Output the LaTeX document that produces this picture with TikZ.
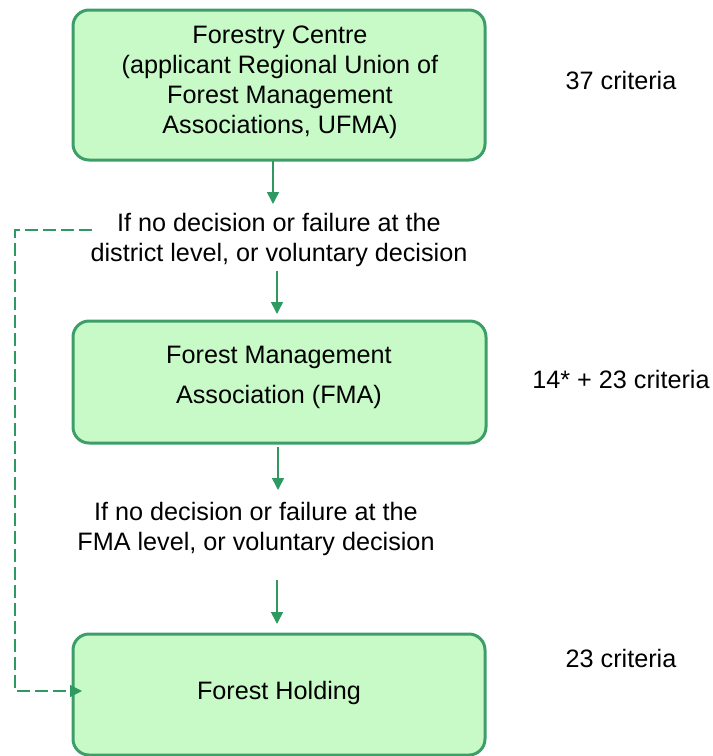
\documentclass[tikz,border=0pt]{standalone}
\usepackage{fontspec}
\setmainfont{Liberation Sans}
\usetikzlibrary{arrows.meta}
\definecolor{boxfill}{HTML}{C8FAC8}
\definecolor{boxline}{HTML}{3E9E6A}
\definecolor{arrowc}{HTML}{2E9A62}
\begin{document}
\begin{tikzpicture}[x=1pt,y=-1pt,
  stagebox/.style={draw=boxline,fill=boxfill,line width=3pt,rounded corners=16pt},
  lbl/.style={inner sep=0pt,align=center,font=\fontsize{25.2}{30}\selectfont},
  flow/.style={draw=arrowc,line width=1.6pt,-{Triangle[length=12pt,width=12pt]}},
  dashflow/.style={draw=arrowc,line width=1.6pt,dash pattern=on 13pt off 5pt,-{Triangle[length=12pt,width=12pt]}}]
\useasboundingbox (0,0) rectangle (713,756);
% boxes
\path[stagebox] (73,10) rectangle (485,160);
\path[stagebox] (73,321) rectangle (486,443);
\path[stagebox] (73,634) rectangle (485,755);
\node[lbl] (fc) at (280,82) {Forestry Centre\\(applicant Regional Union of\\Forest Management\\Associations, UFMA)};
\node[lbl,font=\fontsize{25.2}{40}\selectfont] (fma) at (279,377) {Forest Management\\Association (FMA)};
\node[lbl] (fh) at (279,693) {Forest Holding};
% condition texts
\node[lbl] (c1) at (279,240) {If no decision or failure at the\\district level, or voluntary decision};
\node[lbl] (c2) at (256,529) {If no decision or failure at the\\FMA level, or voluntary decision};
% criteria
\node[lbl] (k1) at (621,80) {37 criteria};
\node[lbl] (k2) at (621,379) {14* + 23 criteria};
\node[lbl] (k3) at (621,658) {23 criteria};
% coordinates for connectors
\coordinate (a1s) at (273,161);
\coordinate (a1e) at (273,204);
\coordinate (a2s) at (277,271);
\coordinate (a2e) at (277,314);
\coordinate (a3s) at (278,447);
\coordinate (a3e) at (278,490);
\coordinate (a4s) at (277,580);
\coordinate (a4e) at (277,624);
\coordinate (d0) at (92,230);
\coordinate (d1) at (15,230);
\coordinate (d2) at (15,691);
\coordinate (d3) at (82,691);
\draw[flow] (a1s) -- (a1e);
\draw[flow] (a2s) -- (a2e);
\draw[flow] (a3s) -- (a3e);
\draw[flow] (a4s) -- (a4e);
\draw[dashflow] (d0) -- (d1) -- (d2) -- (d3);
\end{tikzpicture}
\end{document}
